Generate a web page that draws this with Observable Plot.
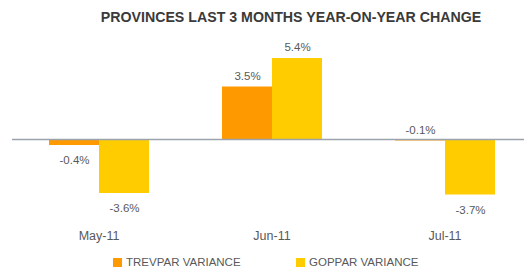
<!DOCTYPE html>
<html><head><meta charset="utf-8">
<script src="https://cdn.jsdelivr.net/npm/d3@7"></script>
<script src="https://cdn.jsdelivr.net/npm/@observablehq/plot@0.6"></script>
<style>
html,body{margin:0;padding:0;background:#fff;width:524px;height:270px;overflow:hidden;font-family:"Liberation Sans",Arial,sans-serif;}
#title{position:absolute;left:0;top:9px;width:582px;text-align:center;font-weight:bold;font-size:14.2px;color:#3a3a3a;}
#chart{position:absolute;left:0;top:29px;width:531px;}
#chart svg{max-width:none !important;}
#legend{position:absolute;top:256px;left:0;width:524px;font-size:11.5px;color:#595959;}
.item{position:absolute;display:flex;align-items:center;}
.sw{width:9px;height:9px;margin-right:4px;}
</style></head>
<body>
<div id="title"></div>
<div id="chart"></div>
<div id="legend"></div>
<script>
const titleText = "PROVINCES LAST 3 MONTHS YEAR-ON-YEAR CHANGE";
const months = ["May-11", "Jun-11", "Jul-11"];
const seriesNames = ["TREVPAR VARIANCE", "GOPPAR VARIANCE"];
const trevpar = [-0.4, 3.5, -0.1];
const goppar = [-3.6, 5.4, -3.7];
const colors = ["#FF9900", "#FFCC00"];

const data = [];
months.forEach((m, i) => {
  data.push({month: m, series: seriesNames[0], value: trevpar[i]});
  data.push({month: m, series: seriesNames[1], value: goppar[i]});
});

document.getElementById("title").textContent = titleText;

const fmt = v => (v < 0 ? "-" : "") + Math.abs(v).toFixed(1) + "%";
const labelAbove = v => v > -0.2;

const W = 531, bw = (W - 12) / months.length;
const common = {fx: "month", x: "series", y: "value", text: d => fmt(d.value), fontSize: 11.5, fill: "#595959"};
const chart = Plot.plot({
  width: W, height: 221,
  marginLeft: 12, marginRight: 0, marginTop: 0, marginBottom: 21,
  style: {fontFamily: "Liberation Sans, Arial, sans-serif", color: "#595959", background: "transparent", maxWidth: "none"},
  fx: {domain: months, padding: 0, label: null},
  x: {domain: seriesNames, paddingInner: 0, paddingOuter: 0.73, axis: null},
  y: {domain: [-5, 6], range: [185, 20], axis: null},
  color: {domain: seriesNames, range: colors},
  marks: [
    Plot.barY(data, {fx: "month", x: "series", y: "value", fill: "series", inset: 0}),
    Plot.ruleY([0], {stroke: "#9aa3ad", strokeWidth: 1.5}),
    Plot.ruleX(months, {fx: d => d, y1: 0, y2: -0.33, dx: -bw / 2, stroke: "#7a7a7a", strokeWidth: 1}),
    Plot.text(data.filter(d => labelAbove(d.value)), {...common, dy: -11}),
    Plot.text(data.filter(d => !labelAbove(d.value)), {...common, dy: 15}),
    Plot.axisFx({anchor: "bottom", tickSize: 0, tickPadding: 2, fontSize: 12.5, label: null})
  ]
});
document.getElementById("chart").appendChild(chart);

const legend = document.getElementById("legend");
const lx = [113, 296];
seriesNames.forEach((s, i) => {
  const it = document.createElement("div");
  it.className = "item";
  it.style.left = lx[i] + "px";
  it.innerHTML = `<span class="sw" style="background:${colors[i]}"></span><span>${s}</span>`;
  legend.appendChild(it);
});
</script>
</body></html>
